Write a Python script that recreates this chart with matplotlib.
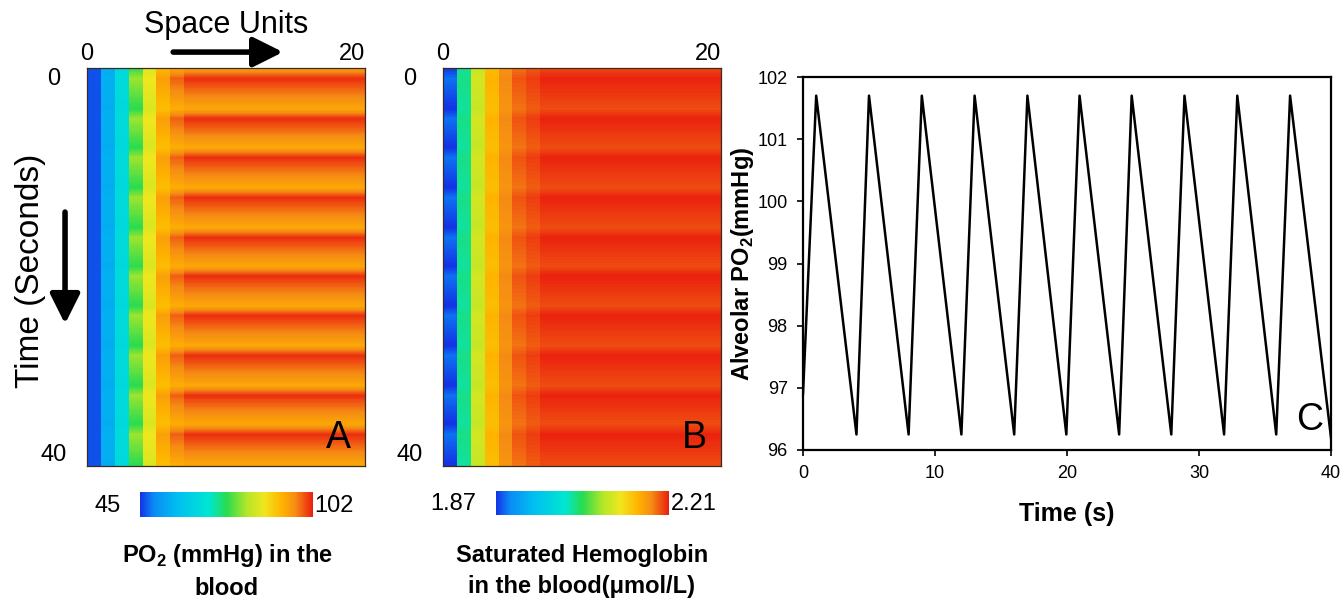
import numpy as np
import matplotlib
matplotlib.use('Agg')
from matplotlib import pyplot as plt
from matplotlib.colors import LinearSegmentedColormap

plt.rcParams['font.family'] = ['Liberation Sans', 'DejaVu Sans']
plt.rcParams['mathtext.fontset'] = 'custom'
plt.rcParams['mathtext.rm'] = 'Liberation Sans'
plt.rcParams['mathtext.bf'] = 'Liberation Sans:bold'

# panel C: alveolar PO2 (mmHg) against time (s)
alv_time = [0.0, 1.0, 4.05, 5.0, 8.0, 9.0, 12.0, 13.0, 16.0, 17.0, 19.95, 20.95,
            23.95, 24.9, 27.9, 28.9, 31.9, 32.9, 35.85, 36.9, 40.0]
alv_po2 = [96.9, 101.7, 96.25, 101.7, 96.25, 101.7, 96.25, 101.7, 96.25, 101.7, 96.25,
           101.7, 96.25, 101.7, 96.25, 101.7, 96.25, 101.7, 96.25, 101.7, 96.2]

# panel A: blood PO2 per space unit, at the low and high phase of the breath
po2_low = [46.7, 54.7, 64.4, 73.5, 83.8, 90.6, 92.3, 92.9, 92.9, 92.9,
           92.9, 92.9, 92.9, 92.9, 92.9, 92.9, 92.9, 92.9, 92.9, 92.9]
po2_high = [46.7, 55.3, 65.0, 79.2, 86.0, 94.0, 98.6, 101.1, 101.1, 101.1,
            101.1, 101.1, 101.1, 101.1, 101.1, 101.1, 101.1, 101.1, 101.1, 101.1]
po2_range = [45, 102]

# panel B: saturated hemoglobin (umol/L) per space unit
hb_low = [1.870, 2.020, 2.091, 2.142, 2.169, 2.183, 2.190, 2.195, 2.195, 2.195,
          2.195, 2.195, 2.195, 2.195, 2.195, 2.195, 2.195, 2.195, 2.195, 2.195]
hb_high = [1.890, 2.026, 2.098, 2.149, 2.176, 2.193, 2.200, 2.208, 2.208, 2.208,
           2.208, 2.208, 2.208, 2.208, 2.208, 2.208, 2.208, 2.208, 2.208, 2.208]
hb_range = [1.87, 2.21]

cmap = LinearSegmentedColormap.from_list('bloodjet', [
    (0.00, '#1432e6'), (0.08, '#0a8cf5'), (0.22, '#00c0f0'), (0.40, '#00e6d2'),
    (0.50, '#28dc50'), (0.62, '#b4e628'), (0.72, '#f0e61e'), (0.82, '#ffb400'),
    (0.90, '#f58c14'), (1.00, '#eb1e0f')])

# breathing phase (0 at trough, 1 at peak) taken from the alveolar curve
t_grid = np.linspace(0, 40, 401)
alv = np.interp(t_grid, alv_time, alv_po2)
phase = (alv - min(alv_po2)) / (max(alv_po2) - min(alv_po2))

fig = plt.figure(figsize=(13.44, 6.06), dpi=100)
W, H = 1344, 606


def box(x0, y0, x1, y1):
    return [x0 / W, 1 - y1 / H, (x1 - x0) / W, (y1 - y0) / H]


def heatmap(rect, low, high, vrange, letter, cbrect, lo_txt, lo_x, hi_txt, title, title_x):
    ax = fig.add_axes(rect)
    low = np.array(low)
    high = np.array(high)
    field = low[None, :] + (high - low)[None, :] * phase[:, None]
    im = ax.imshow(field, extent=[0, 20, 40, 0], aspect='auto', cmap=cmap,
                   vmin=vrange[0], vmax=vrange[1], interpolation='nearest')
    ax.xaxis.tick_top()
    ax.set_xticks([0, 20])
    ax.set_yticks([0, 40])
    ax.tick_params(length=0, labelsize=17)
    ax.tick_params(axis='x', pad=2)
    ax.tick_params(axis='y', pad=24)
    xl = ax.get_xticklabels()
    xl[1].set_ha('right')
    yl = ax.get_yticklabels()
    for lab in yl:
        lab.set_ha('center')
    yl[0].set_va('top')
    yl[1].set_va('bottom')
    for s in ax.spines.values():
        s.set_linewidth(0.9)
        s.set_color('#3a2a20')
    ax.text(0.905, 0.07, letter, transform=ax.transAxes, fontsize=27,
            ha='center', va='center')

    cax = fig.add_axes(cbrect)
    cb = fig.colorbar(im, cax=cax, orientation='horizontal', ticks=[])
    cb.outline.set_visible(False)
    cax.text(lo_x, 0.45, lo_txt, transform=cax.transAxes, fontsize=17,
             ha='center', va='center')
    cax.text(1.01, 0.45, hi_txt, transform=cax.transAxes, fontsize=17,
             ha='left', va='center')
    fig.text(title_x / W, 1 - 571 / H, title, fontsize=17, fontweight='bold',
             ha='center', va='center', linespacing=1.4)
    return ax


ax_a = heatmap(box(87, 68, 365, 466), po2_low, po2_high, po2_range, 'A',
               box(140, 492, 313, 517), '45', -0.19, '102',
               'PO$_\\mathbf{2}$ (mmHg) in the\nblood', 227)
ax_b = heatmap(box(443, 68, 721, 466), hb_low, hb_high, hb_range, 'B',
               box(496, 491, 669, 515), '1.87', -0.25, '2.21',
               'Saturated Hemoglobin\nin the blood(\u03bcmol/L)', 582)

ax_a.text(0.5, 1.108, 'Space Units', transform=ax_a.transAxes, fontsize=22,
          ha='center', va='center')
ax_a.annotate('', xy=(0.715, 1.04), xytext=(0.30, 1.04), xycoords='axes fraction',
              arrowprops=dict(arrowstyle='-|>,head_length=0.9,head_width=0.45',
                              lw=4, color='black', mutation_scale=20),
              annotation_clip=False)
ax_a.text(-0.205, 0.49, 'Time (Seconds)', transform=ax_a.transAxes, fontsize=24,
          rotation=90, ha='center', va='center')
ax_a.annotate('', xy=(-0.079, 0.35), xytext=(-0.079, 0.645), xycoords='axes fraction',
              arrowprops=dict(arrowstyle='-|>,head_length=0.9,head_width=0.45',
                              lw=4, color='black', mutation_scale=20),
              annotation_clip=False)

# panel C
ax_c = fig.add_axes(box(803, 77, 1331, 450))
ax_c.plot(alv_time, alv_po2, color='black', lw=1.8)
ax_c.set_xlim(0, 40)
ax_c.set_ylim(96, 102)
ax_c.set_xticks([0, 10, 20, 30, 40])
ax_c.set_yticks([96, 97, 98, 99, 100, 101, 102])
ax_c.tick_params(direction='out', length=4, width=1.2, labelsize=13, pad=7)
for s in ax_c.spines.values():
    s.set_linewidth(1.6)
ax_c.set_xlabel('Time (s)', fontsize=18, fontweight='bold', labelpad=14)
ax_c.set_ylabel('Alveolar PO$_\\mathbf{2}$(mmHg)', fontsize=17, fontweight='bold',
                labelpad=1)
ax_c.text(0.96, 0.08, 'C', transform=ax_c.transAxes, fontsize=27,
          ha='center', va='center')

fig.savefig('out.png', dpi=100)
